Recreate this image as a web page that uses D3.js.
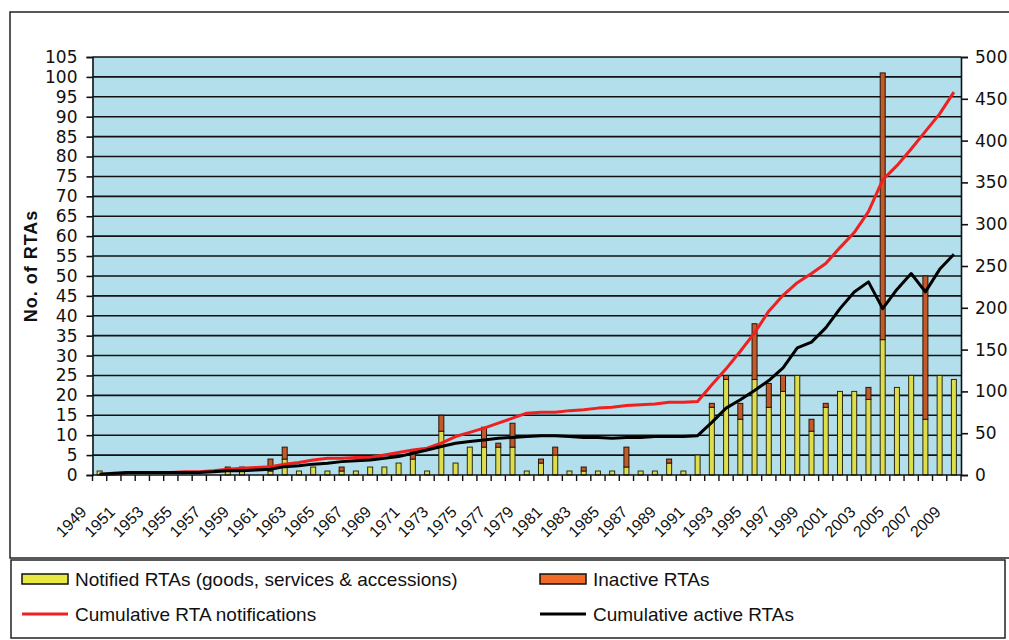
<!DOCTYPE html>
<html>
<head>
<meta charset="utf-8">
<script src="https://cdn.jsdelivr.net/npm/d3@7/dist/d3.min.js"></script>
<style>
  body { margin: 0; background: #fff; }
  svg { display: block; }
</style>
</head>
<body>
<script>
// data
const years = [1949,1950,1951,1952,1953,1954,1955,1956,1957,1958,1959,1960,1961,1962,1963,1964,1965,1966,1967,1968,
  1969,1970,1971,1972,1973,1974,1975,1976,1977,1978,1979,1980,1981,1982,1983,1984,1985,1986,1987,1988,
  1989,1990,1991,1992,1993,1994,1995,1996,1997,1998,1999,2000,2001,2002,2003,2004,2005,2006,2007,2008,2009];

// bars (left axis)
const notified = [1,0,0,0,0,0,0,0,0,1,1,0,1,4,1,2,1,1,1,2,
  2,3,4,1,11,3,7,7,7,7,1,3,5,1,1,1,1,2,1,1,
  3,1,5,17,24,14,24,17,21,25,11,17,21,21,19,34,22,25,14,25,24];
const inactive = [0,0,0,0,0,0,0,0,0,1,1,0,3,3,0,0,0,1,0,0,
  0,0,2,0,4,0,0,5,1,6,0,1,2,0,1,0,0,5,0,0,
  1,0,0,1,1,4,14,6,4,0,3,1,0,0,3,67,0,0,36,0,0];

// lines (right axis)
const cumNotified = [1,1,3,3,3,3,4,4,5,7,8,9,10,13,15,18,20,20,21,21,
  24,27,30,32,38,46,51,56,62,68,74,75,75,77,78,80,81,83,84,85,
  87,87,88,108,127,148,170,196,215,230,241,253,272,290,315,353,370,390,411,432,458];
const cumActive = [1,2,3,3,3,3,3,3,4,5,5,6,7,10,11,13,14,16,17,18,
  20,22,26,30,34,38,40,42,44,45,46,47,47,46,45,45,44,45,45,46,
  46,46,47,63,80,90,101,113,128,152,159,176,199,219,231,199,222,241,219,246,264];

const leftTicks = d3.range(0, 106, 5);
const rightTicks = d3.range(0, 501, 50);
const yearLabels = years.filter((d, i) => i % 2 === 0);

const W = 1009, H = 640;
const plot = {left: 92.5, right: 961, top: 57, bottom: 475};

const svg = d3.select("body").append("svg")
  .attr("width", W).attr("height", H);

// outer frame
svg.append("rect")
  .attr("x", 10).attr("y", 12).attr("width", 1020).attr("height", 546)
  .attr("fill", "none").attr("stroke", "#222").attr("stroke-width", 1.5);

let x = d3.scaleBand().domain(years).range([plot.left, plot.right]).padding(0);
let yL = d3.scaleLinear().domain([0, 105]).range([plot.bottom, plot.top]);
let yR = d3.scaleLinear().domain([0, 500]).range([plot.bottom, plot.top]);
const cx = d => x(d) + x.bandwidth() / 2;

// plot background
svg.append("rect")
  .attr("x", plot.left).attr("y", plot.top)
  .attr("width", plot.right - plot.left).attr("height", plot.bottom - plot.top)
  .attr("fill", "#b3deeb");

// gridlines
svg.append("g")
  .selectAll("line").data(leftTicks.slice(1)).enter().append("line")
  .attr("x1", plot.left).attr("x2", plot.right)
  .attr("y1", d => yL(d)).attr("y2", d => yL(d))
  .attr("stroke", "#111").attr("stroke-width", 1.6);

// bars: notified at the bottom, inactive stacked on top
const barW = 5;
const bars = svg.append("g");
bars.selectAll("rect.notified").data(years).enter().append("rect")
  .attr("class", "notified")
  .filter((d, i) => notified[i] > 0)
  .attr("x", d => cx(d) - barW / 2)
  .attr("y", d => yL(notified[years.indexOf(d)]))
  .attr("width", barW)
  .attr("height", d => plot.bottom - yL(notified[years.indexOf(d)]))
  .attr("fill", "#dede4c").attr("stroke", "#2a2a10").attr("stroke-width", 1);

bars.selectAll("rect.inactive").data(years).enter().append("rect")
  .attr("class", "inactive")
  .filter((d, i) => inactive[i] > 0)
  .attr("x", d => cx(d) - barW / 2)
  .attr("y", d => { const i = years.indexOf(d); return yL(notified[i] + inactive[i]); })
  .attr("width", barW)
  .attr("height", d => { const i = years.indexOf(d); return yL(notified[i]) - yL(notified[i] + inactive[i]); })
  .attr("fill", "#c25a2a").attr("stroke", "#2a1408").attr("stroke-width", 1);

// lines
const cumLine = d3.line().x((d, i) => cx(years[i])).y(d => yR(d));
svg.append("path").datum(cumNotified)
  .attr("d", cumLine).attr("fill", "none")
  .attr("stroke", "#f02020").attr("stroke-width", 3).attr("stroke-linejoin", "round");
svg.append("path").datum(cumActive)
  .attr("d", cumLine).attr("fill", "none")
  .attr("stroke", "#000").attr("stroke-width", 3).attr("stroke-linejoin", "round");

// axes
const axisFont = "'DejaVu Sans', sans-serif";

const leftAxis = svg.append("g")
  .attr("transform", `translate(${plot.left},0)`)
  .call(d3.axisLeft(yL).tickValues(leftTicks).tickSize(6).tickPadding(9));
leftAxis.select(".domain").attr("stroke", "#111").attr("stroke-width", 1.6);
leftAxis.selectAll(".tick line").attr("stroke", "#111").attr("stroke-width", 1.6);
leftAxis.selectAll("text").attr("font-family", axisFont).attr("font-size", 17).attr("fill", "#111");

const rightAxis = svg.append("g")
  .attr("transform", `translate(${plot.right},0)`)
  .call(d3.axisRight(yR).tickValues(rightTicks).tickSize(7).tickPadding(7));
rightAxis.select(".domain").attr("stroke", "#111").attr("stroke-width", 1.6);
rightAxis.selectAll(".tick line").attr("stroke", "#111").attr("stroke-width", 1.6);
rightAxis.selectAll("text").attr("font-family", axisFont).attr("font-size", 17).attr("fill", "#111");

// x axis: ticks at category boundaries
const xg = svg.append("g");
xg.append("line")
  .attr("x1", plot.left).attr("x2", plot.right)
  .attr("y1", plot.bottom).attr("y2", plot.bottom)
  .attr("stroke", "#111").attr("stroke-width", 1.6);
xg.selectAll("line.tk").data(years.concat([null])).enter().append("line")
  .attr("class", "tk")
  .attr("x1", d => d === null ? plot.right : x(d))
  .attr("x2", d => d === null ? plot.right : x(d))
  .attr("y1", plot.bottom).attr("y2", plot.bottom + 6)
  .attr("stroke", "#111").attr("stroke-width", 1.4);
xg.selectAll("text").data(yearLabels).enter().append("text")
  .attr("transform", d => `translate(${cx(d) - 12},${plot.bottom + 38}) rotate(-45)`)
  .attr("text-anchor", "end")
  .attr("font-family", "'Liberation Sans', Arial, sans-serif")
  .attr("font-size", 16).attr("fill", "#111")
  .text(d => d);

// y title
svg.append("text")
  .attr("transform", `translate(37,${(plot.top + plot.bottom) / 2}) rotate(-90)`)
  .attr("text-anchor", "middle")
  .attr("font-family", "'Liberation Sans', Arial, sans-serif")
  .attr("font-weight", "bold").attr("font-size", 18).attr("letter-spacing", 1)
  .attr("fill", "#111")
  .text("No. of RTAs");

// legend
const legend = svg.append("g");
legend.append("rect")
  .attr("x", 11).attr("y", 560).attr("width", 994).attr("height", 78)
  .attr("fill", "#fff").attr("stroke", "#222").attr("stroke-width", 1.5);

const legendItems = [
  {label: "Notified RTAs (goods, services & accessions)", type: "box", color: "#e8e840", col: 0, row: 0},
  {label: "Inactive RTAs", type: "box", color: "#f06a28", col: 1, row: 0},
  {label: "Cumulative RTA notifications", type: "line", color: "#f02020", col: 0, row: 1},
  {label: "Cumulative active RTAs", type: "line", color: "#000", col: 1, row: 1}
];
const legX = [22, 540], legY = [579, 614];
const li = legend.selectAll("g.item").data(legendItems).enter().append("g")
  .attr("transform", d => `translate(${legX[d.col]},${legY[d.row]})`);
li.filter(d => d.type === "box").append("rect")
  .attr("x", 0).attr("y", -5).attr("width", 46).attr("height", 10)
  .attr("fill", d => d.color).attr("stroke", "#111").attr("stroke-width", 1.5);
li.filter(d => d.type === "line").append("line")
  .attr("x1", 0).attr("x2", 46).attr("y1", 0).attr("y2", 0)
  .attr("stroke", d => d.color).attr("stroke-width", 3);
li.append("text")
  .attr("x", 53).attr("y", 0).attr("dy", "0.36em")
  .attr("font-family", "'Liberation Sans', Arial, sans-serif")
  .attr("font-size", 19).attr("fill", "#111")
  .text(d => d.label);
</script>
</body>
</html>
